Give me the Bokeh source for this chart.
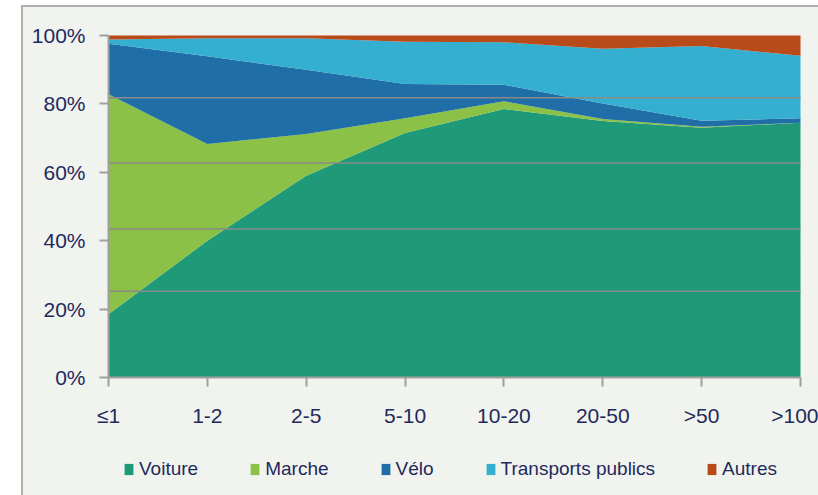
from bokeh.plotting import figure
from bokeh.models import ColumnDataSource, FixedTicker, PrintfTickFormatter, Range1d, Legend
from bokeh.embed import file_html
from bokeh.resources import INLINE

categories = ["≤1", "1-2", "2-5", "5-10", "10-20", "20-50", ">50", ">100"]
voiture = [18.5, 40.0, 59.0, 71.5, 78.5, 75.0, 73.0, 74.5]
marche = [64.3, 28.3, 12.2, 4.3, 2.3, 0.6, 0.3, 0.0]
velo = [14.8, 25.6, 18.8, 10.0, 4.8, 4.5, 1.8, 1.3]
transports = [1.2, 5.3, 9.2, 12.4, 12.4, 16.0, 21.8, 18.3]
autres = [1.2, 0.8, 0.8, 1.8, 2.0, 3.9, 3.1, 5.9]

series_names = ["Voiture", "Marche", "Vélo", "Transports publics", "Autres"]
colors = ["#1e9a78", "#8bc146", "#1f6ea8", "#35afcf", "#b94a1a"]
y_ticks = [0, 20, 40, 60, 80, 100]
grid_levels = [25.2, 43.4, 62.7, 81.8]

FONT = "'Liberation Sans', Arial, sans-serif"
TEXT = "#1f2a5c"
BG = "#f1f3ef"

xs = list(range(len(categories)))
last = len(categories) - 1
source = ColumnDataSource(dict(x=xs, Voiture=voiture, Marche=marche, Velo=velo,
                               TP=transports, Autres=autres))
grid_src = ColumnDataSource(dict(x0=[0] * len(grid_levels), x1=[last] * len(grid_levels),
                                 y=grid_levels))

# The frame covers the whole canvas; both axes are pinned at the data origin
p = figure(frame_width=795, frame_height=488, output_backend="svg", toolbar_location=None,
           x_range=Range1d(-0.86, last + 0.182), y_range=Range1d(-34.5, 108.19),
           min_border_left=0, min_border_top=0, min_border_right=0, min_border_bottom=0)
p.styles = {"margin-left": "21px", "margin-top": "5px",
            "border-left": "2px solid #b0b0b0", "border-top": "2px solid #b0b0b0",
            "background-color": BG}

renderers = p.varea_stack(stackers=["Voiture", "Marche", "Velo", "TP", "Autres"], x="x",
                          color=colors, source=source)

# horizontal gridlines drawn over the areas, limited to the plotted span
p.segment(x0="x0", x1="x1", y0="y", y1="y", source=grid_src,
          line_color="#8a8a8a", line_width=1.5)

legend = Legend(items=[(n, [r]) for n, r in zip(series_names, renderers)],
                orientation="horizontal", location=(100, 15))
legend.label_text_font = FONT
legend.label_text_font_size = "19px"
legend.label_text_color = TEXT
legend.glyph_width = 11
legend.glyph_height = 14
legend.label_standoff = 5
legend.spacing = 51
legend.padding = 0
legend.margin = 0
legend.border_line_color = None
legend.background_fill_alpha = 0
p.add_layout(legend, "center")

p.background_fill_color = BG
p.border_fill_color = BG
p.outline_line_color = None
p.grid.visible = False

p.xaxis.fixed_location = 0
p.xaxis.bounds = (0, last)
p.xaxis.ticker = FixedTicker(ticks=xs)
p.xaxis.major_label_overrides = {i: c for i, c in zip(xs, categories)}
p.yaxis.fixed_location = 0
p.yaxis.bounds = (0, 100)
p.yaxis.ticker = FixedTicker(ticks=y_ticks)
p.yaxis.formatter = PrintfTickFormatter(format="%d%%")

for ax in (p.xaxis, p.yaxis):
    ax.axis_line_color = "#a0a0a0"
    ax.axis_line_width = 2
    ax.major_tick_line_color = "#a0a0a0"
    ax.major_tick_line_width = 2
    ax.major_tick_out = 9
    ax.major_tick_in = 0
    ax.minor_tick_line_color = None
    ax.major_label_text_font = FONT
    ax.major_label_text_font_size = "21px"
    ax.major_label_text_color = TEXT
p.xaxis.major_label_standoff = 17
p.yaxis.major_label_standoff = 14

open("out.html", "w").write(file_html(p, INLINE))
